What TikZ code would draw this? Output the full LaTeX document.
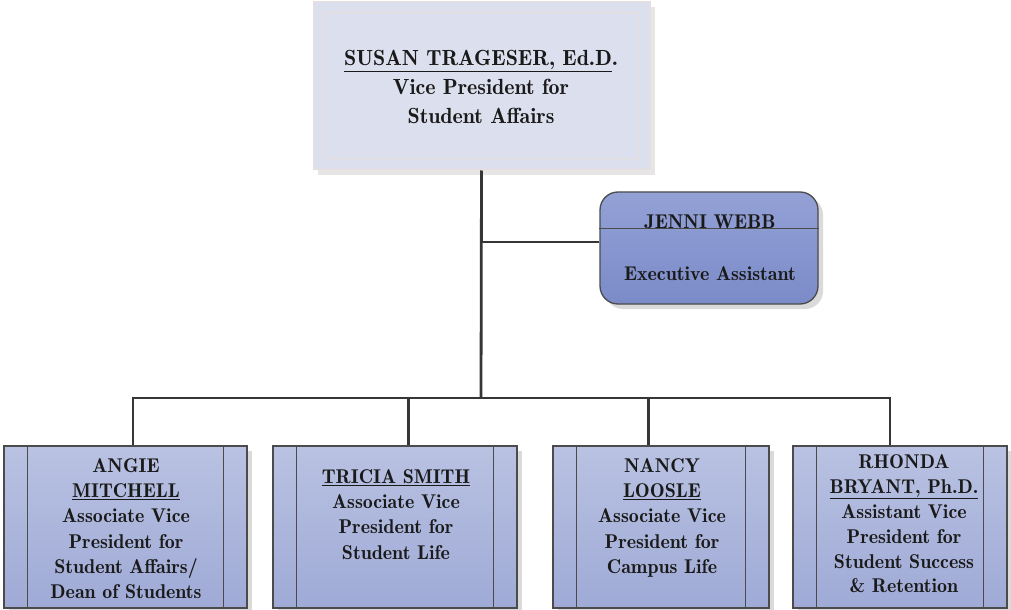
\documentclass[tikz,border=0pt]{standalone}
\usepackage{fontspec}
\newfontfamily\orgfont{lmromandemi10-regular.otf}
\usetikzlibrary{shadows}
\definecolor{topfill}{HTML}{DCE0EE}
\definecolor{topedge}{HTML}{E9DDD6}
\definecolor{boxtop}{HTML}{B9C2E2}
\definecolor{boxbot}{HTML}{9FAAD6}
\definecolor{jtop}{HTML}{93A1D6}
\definecolor{jbot}{HTML}{7B8BC8}
\definecolor{edgec}{HTML}{4B4B4B}
\definecolor{connc}{HTML}{363636}
\definecolor{shadowc}{HTML}{DADADA}
\definecolor{vpshadowc}{HTML}{E6E6E6}
\definecolor{txt}{HTML}{1A1A1A}
\begin{document}
\begin{tikzpicture}[x=1bp,y=-1bp,
  myshadow/.style={drop shadow={shadow xshift=5bp,shadow yshift=-5bp,fill=shadowc,opacity=1}},
  vpbox/.style={rectangle, fill=topfill, draw=topedge, line width=1bp, inner sep=0,
    minimum width=337bp, minimum height=168bp,
    drop shadow={shadow xshift=5bp,shadow yshift=-5bp,fill=vpshadowc,opacity=1}},
  asstbox/.style={rectangle, rounded corners=18bp, draw=edgec, line width=1.3bp, inner sep=0,
    top color=jtop, bottom color=jbot, minimum width=218bp, minimum height=112bp, myshadow},
  unitbox/.style={rectangle, draw=edgec, line width=1.3bp, inner sep=0,
    top color=boxtop, bottom color=boxbot, minimum height=162bp, myshadow},
  inline/.style={draw=edgec, line width=1.3bp},
  conn/.style={draw=connc, line width=2.8bp},
  nametext/.style={inner sep=0, align=center, text=txt, anchor=north,
    font=\orgfont\fontsize{20}{25.3}\selectfont},
  bigtext/.style={nametext, font=\orgfont\fontsize{22}{29}\selectfont}
]
\useasboundingbox[fill=white] (0,0) rectangle (1011,610);

% top box
\node[vpbox] (vp) at (481.5,86) {};
\draw[topedge, line width=1bp] ([shift={(11bp,-11bp)}]vp.north west) rectangle ([shift={(-12bp,12bp)}]vp.south east);
\node[bigtext] (vpt) at (481,50) {\underline{SUSAN TRAGESER, Ed.D}.\\Vice President for\\Student Affairs};

% assistant
\node[asstbox] (jw) at (709,248) {};
\draw[inline] ([yshift=-37bp]jw.north west) -- ([yshift=-37bp]jw.north east);
\node[nametext] (jwt) at (710,214.3) {JENNI WEBB\\[26.7bp]Executive Assistant};

% bottom boxes
\node[unitbox, minimum width=243bp] (a1) at (125.5,527) {};
\node[unitbox, minimum width=244bp] (a2) at (395,527) {};
\node[unitbox, minimum width=216bp] (a3) at (661,527) {};
\node[unitbox, minimum width=214bp] (a4) at (900,527) {};
\foreach \n in {a1,a2,a3,a4}{
  \draw[inline] ([xshift=24bp]\n.north west) -- ([xshift=24bp]\n.south west);
  \draw[inline] ([xshift=-24bp]\n.north east) -- ([xshift=-24bp]\n.south east);
}
\node[nametext] (a1t) at (126,458.3) {ANGIE\\\underline{MITCHELL}\\Associate Vice\\President for\\Student Affairs/\\Dean of Students};
\node[nametext] (a2t) at (396,469.3) {\underline{TRICIA SMITH}\\Associate Vice\\President for\\Student Life};
\node[nametext] (a3t) at (662,458.3) {NANCY\\\underline{LOOSLE}\\Associate Vice\\President for\\Campus Life};
\node[nametext, font=\orgfont\fontsize{20}{25}\selectfont] (a4t) at (904,454.3) {RHONDA\\\underline{BRYANT, Ph.D.}\\Assistant Vice\\President for\\Student Success\\\& Retention};

% connectors
\coordinate (j) at (481,398);
\coordinate (b) at (481,242);
\draw[conn] (vp.south) -- (j);
\draw[conn] (b) -- (b -| jw.west);
\draw[conn] ([xshift=7.5bp]a1.north) |- ([xshift=-10bp]a4.north |- j) -- ([xshift=-10bp]a4.north);
\draw[conn] ([xshift=13.5bp]a2.north) -- ([xshift=13.5bp]a2.north |- j);
\draw[conn] ([xshift=-12.5bp]a3.north) -- ([xshift=-12.5bp]a3.north |- j);
\end{tikzpicture}
\end{document}
